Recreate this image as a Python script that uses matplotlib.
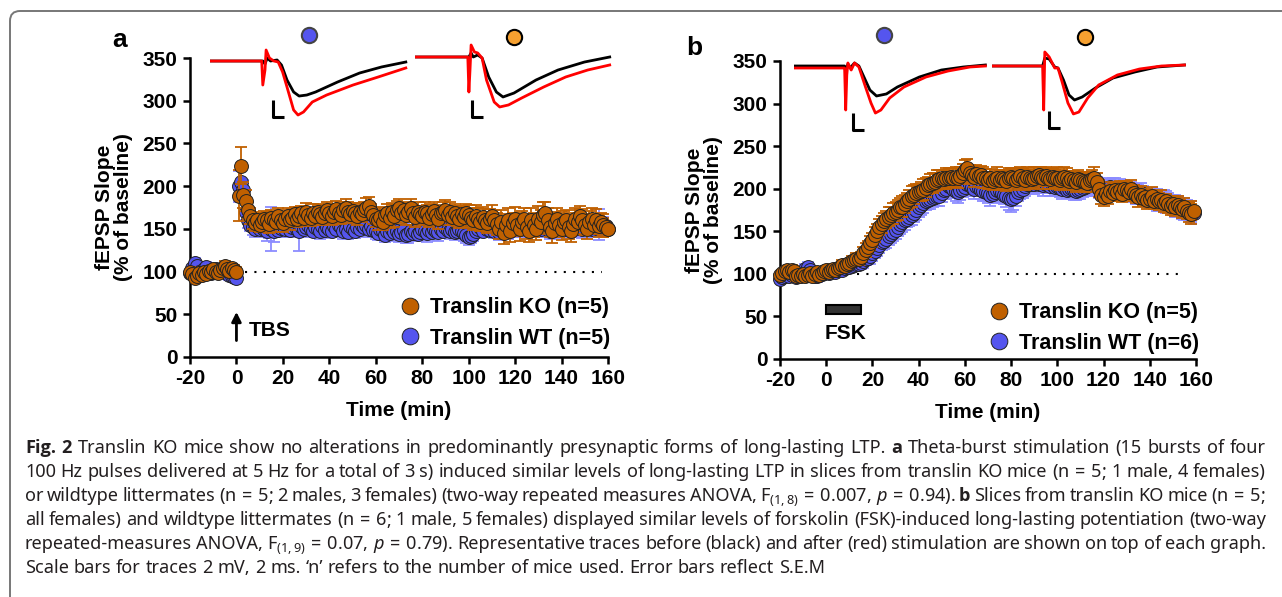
import numpy as np
import matplotlib
matplotlib.use("Agg")
import matplotlib.pyplot as plt
from matplotlib import font_manager
from matplotlib.lines import Line2D
from matplotlib.patches import Rectangle, FancyBboxPatch

W, H = 1282, 597

plt.rcParams["font.family"] = ["Liberation Sans", "DejaVu Sans"]
plt.rcParams["font.weight"] = "bold"
plt.rcParams["axes.labelweight"] = "bold"
plt.rcParams["axes.unicode_minus"] = False
plt.rcParams["mathtext.fontset"] = "custom"
plt.rcParams["mathtext.rm"] = "Noto Sans"
plt.rcParams["mathtext.it"] = "Noto Sans:italic"
plt.rcParams["mathtext.bf"] = "Noto Sans:bold"
plt.rcParams["mathtext.default"] = "rm"

KO_COL, KO_ERR = "#C06000", "#C06000"
WT_COL, WT_ERR = "#5555EE", "#8C8CFF"

# ---------------- data: panel a (TBS) ----------------
T_A = np.arange(-20, 161)

KO_A_BASE = [100, 97, 92, 95, 98, 96, 100, 97, 101, 99,
             103, 100, 98, 102, 104, 106, 103, 101, 104, 102, 100]
KO_A_POST = [189, 224, 190, 183, 172, 165, 160, 157, 160, 155,
             158, 162, 160, 156, 163, 160, 158, 165, 160, 157,
             162, 165, 160, 163, 167, 162, 165, 168, 163, 170,
             166, 163, 168, 165, 170, 167, 164, 169, 172, 168,
             165, 170, 173, 168, 166, 172, 175, 170, 167, 171,
             168, 165, 170, 167, 172, 175, 177, 170, 166, 162,
             160, 164, 158, 166, 168, 163, 170, 165, 172, 175,
             168, 172, 166, 170, 174, 168, 164, 170, 167, 165,
             170, 168, 163, 167, 171, 166, 162, 168, 170, 172,
             166, 170, 164, 168, 165, 162, 167, 164, 168, 166,
             163, 160, 165, 162, 158, 164, 160, 157, 162, 165,
             160, 156, 150, 158, 145, 155, 160, 148, 157, 162,
             155, 150, 158, 162, 152, 148, 160, 155, 150, 162,
             158, 166, 168, 160, 152, 148, 157, 162, 155, 150,
             158, 160, 152, 148, 156, 162, 158, 165, 160, 155,
             150, 158, 162, 155, 160, 153, 158, 155, 152, 150]
KO_A_SEM_BASE = [5, 6, 4, 5, 6, 5, 4, 6, 5, 4, 5, 6, 5, 4, 5, 6, 5, 4, 5, 6, 5]
KO_A_SEM_POST = [30, 22, 15, 12, 10, 9, 10, 9, 8, 9,
                 10, 9, 10, 11, 9, 10, 12, 10, 9, 11,
                 10, 9, 11, 10, 9, 10, 11, 9, 10, 10,
                 9, 10, 11, 10, 9, 10, 10, 9, 10, 11,
                 10, 9, 10, 11, 10, 9, 10, 11, 10, 9,
                 10, 11, 10, 9, 10, 11, 10, 9, 10, 10,
                 11, 10, 9, 10, 11, 12, 10, 13, 11, 10,
                 11, 10, 12, 10, 11, 10, 12, 11, 10, 11,
                 12, 10, 11, 12, 10, 11, 12, 10, 11, 12,
                 11, 12, 10, 11, 12, 11, 10, 12, 11, 12,
                 12, 11, 13, 12, 11, 12, 13, 12, 11, 13,
                 12, 13, 12, 14, 13, 12, 14, 13, 12, 14,
                 13, 14, 13, 12, 14, 13, 15, 14, 13, 15,
                 14, 15, 13, 14, 12, 14, 13, 12, 14, 13,
                 13, 12, 14, 13, 12, 13, 14, 12, 13, 12,
                 12, 13, 12, 11, 13, 12, 11, 12, 11, 10]

WT_A_BASE = [98, 104, 110, 106, 100, 97, 103, 105, 101, 98,
             100, 103, 99, 101, 104, 100, 98, 96, 95, 94, 93]
WT_A_POST = [200, 205, 195, 170, 160, 155, 152, 150, 153, 150,
             152, 150, 148, 153, 150, 147, 152, 149, 151, 154,
             150, 153, 149, 152, 155, 150, 148, 153, 150, 152,
             155, 150, 148, 152, 150, 147, 153, 149, 152, 150,
             148, 153, 150, 155, 152, 148, 150, 146, 153, 150,
             148, 152, 150, 155, 152, 154, 150, 153, 149, 147,
             145, 150, 147, 143, 148, 145, 150, 146, 148, 144,
             146, 149, 143, 144, 147, 145, 148, 144, 146, 150,
             147, 145, 149, 146, 150, 148, 146, 150, 147, 152,
             149, 147, 150, 146, 148, 150, 147, 145, 143, 140,
             142, 144, 148, 150, 152, 148, 153, 150, 149, 152,
             148, 150, 146, 152, 148, 150, 147, 152, 150, 155,
             152, 150, 154, 151, 155, 150, 153, 152, 150, 154,
             150, 152, 155, 150, 148, 153, 150, 154, 150, 152,
             153, 150, 152, 155, 150, 153, 155, 152, 150, 153,
             155, 152, 150, 154, 152, 155, 150, 152, 153, 150]
WT_A_SEM_BASE = [4, 5, 6, 4, 5, 4, 5, 6, 4, 5, 4, 5, 6, 4, 5, 4, 5, 6, 4, 5, 4]
WT_A_SEM_POST = [18, 15, 12, 10, 9, 8, 9, 10, 8, 9,
                 9, 10, 12, 14, 26, 12, 10, 9, 11, 10,
                 9, 10, 8, 11, 10, 9, 24, 10, 9, 8,
                 9, 10, 8, 9, 10, 9, 8, 10, 12, 9,
                 8, 9, 10, 8, 9, 10, 9, 8, 9, 10,
                 9, 8, 9, 10, 9, 8, 9, 10, 8, 9,
                 8, 9, 10, 8, 9, 8, 9, 10, 8, 9,
                 9, 8, 9, 10, 8, 9, 10, 8, 9, 8,
                 9, 10, 8, 9, 8, 9, 10, 9, 8, 9,
                 8, 9, 10, 9, 8, 9, 8, 9, 10, 9,
                 9, 8, 9, 10, 9, 8, 9, 10, 9, 8,
                 9, 10, 9, 8, 9, 10, 9, 8, 9, 10,
                 10, 9, 8, 9, 10, 9, 10, 11, 9, 10,
                 9, 10, 11, 9, 10, 9, 11, 10, 9, 10,
                 10, 9, 11, 10, 9, 12, 10, 9, 11, 10,
                 10, 11, 9, 10, 12, 18, 10, 9, 11, 10]

# ---------------- data: panel b (FSK) ----------------
T_B = np.arange(-20, 160)

KO_B_BASE = [99, 101, 103, 104, 102, 105, 103, 97, 99, 98,
             100, 97, 99, 101, 98, 100, 102, 99, 101, 103]
KO_B_POST = [104, 102, 105, 106, 104, 107, 108, 110, 109, 112,
             113, 115, 116, 118, 117, 120, 124, 128, 132, 136,
             140, 146, 150, 155, 158, 162, 164, 167, 169, 171,
             173, 175, 178, 179, 182, 185, 188, 191, 193, 195,
             196, 197, 199, 201, 204, 206, 207, 208, 210, 211,
             212, 211, 212, 213, 214, 213, 214, 212, 215, 218,
             222, 224, 218, 216, 214, 217, 215, 216, 213, 212,
             210, 212, 209, 211, 213, 210, 212, 211, 209, 213,
             214, 212, 210, 213, 215, 212, 210, 214, 213, 211,
             213, 215, 216, 214, 212, 215, 213, 211, 214, 212,
             213, 210, 212, 214, 212, 209, 211, 210, 208, 211,
             210, 209, 208, 207, 210, 211, 213, 208, 200, 193,
             190, 195, 192, 197, 195, 199, 196, 198, 194, 200,
             198, 196, 200, 195, 193, 190, 193, 189, 190, 187,
             188, 191, 186, 188, 185, 187, 183, 185, 182, 180,
             182, 179, 181, 178, 176, 178, 174, 172, 170, 174]
KO_B_SEM_BASE = [4, 5, 4, 5, 6, 5, 4, 5, 4, 5, 4, 5, 6, 5, 4, 5, 4, 5, 6, 5]
KO_B_SEM_POST = [5, 4, 5, 6, 5, 4, 5, 6, 5, 6,
                 5, 6, 5, 6, 7, 6, 7, 8, 7, 8,
                 8, 9, 8, 9, 10, 9, 10, 11, 10, 12,
                 11, 12, 11, 12, 11, 10, 11, 12, 11, 10,
                 10, 11, 12, 11, 10, 11, 12, 11, 12, 11,
                 10, 11, 12, 11, 10, 11, 12, 11, 10, 11,
                 12, 11, 10, 11, 12, 11, 10, 11, 12, 11,
                 10, 11, 10, 11, 12, 11, 10, 11, 12, 11,
                 10, 11, 12, 11, 10, 11, 12, 11, 10, 11,
                 12, 11, 10, 11, 12, 11, 10, 11, 10, 11,
                 12, 11, 10, 11, 12, 11, 10, 11, 12, 11,
                 10, 11, 12, 11, 10, 11, 12, 11, 10, 11,
                 10, 9, 10, 11, 10, 9, 10, 11, 10, 9,
                 10, 11, 10, 9, 10, 11, 10, 9, 10, 11,
                 10, 11, 10, 9, 10, 11, 10, 9, 10, 11,
                 10, 11, 10, 9, 10, 11, 10, 11, 12, 11]

WT_B_BASE = [94, 96, 98, 100, 97, 99, 101, 96, 98, 100,
             102, 106, 108, 104, 100, 98, 97, 99, 100, 101]
WT_B_POST = [102, 101, 103, 104, 102, 105, 106, 104, 107, 108,
             108, 109, 110, 111, 112, 113, 115, 117, 119, 121,
             124, 127, 130, 134, 137, 139, 141, 144, 147, 149,
             152, 155, 158, 161, 163, 165, 167, 169, 172, 175,
             178, 181, 183, 185, 187, 188, 189, 190, 191, 192,
             195, 198, 200, 203, 202, 200, 197, 196, 198, 200,
             202, 205, 204, 202, 200, 203, 201, 199, 197, 196,
             195, 193, 194, 196, 198, 197, 195, 193, 191, 189,
             188, 189, 192, 196, 198, 200, 203, 205, 206, 205,
             206, 207, 205, 206, 204, 206, 205, 203, 204, 202,
             203, 201, 200, 202, 199, 200, 201, 198, 197, 199,
             200, 201, 202, 203, 204, 205, 204, 203, 201, 200,
             199, 200, 201, 202, 200, 201, 199, 200, 198, 199,
             197, 196, 198, 195, 194, 193, 195, 192, 191, 190,
             189, 190, 188, 187, 186, 185, 186, 184, 183, 182,
             181, 180, 179, 178, 177, 176, 175, 174, 173, 172]
WT_B_SEM_BASE = [5, 4, 5, 6, 4, 5, 4, 5, 6, 5, 4, 5, 6, 5, 4, 5, 6, 4, 5, 4]
WT_B_SEM_POST = [4, 5, 4, 5, 6, 5, 4, 5, 6, 5,
                 6, 5, 6, 7, 6, 7, 8, 7, 8, 9,
                 9, 8, 9, 10, 9, 10, 11, 10, 11, 10,
                 11, 10, 11, 12, 11, 10, 11, 12, 11, 12,
                 11, 12, 11, 10, 11, 12, 11, 10, 11, 12,
                 11, 10, 12, 11, 10, 11, 12, 13, 11, 10,
                 11, 12, 10, 11, 12, 11, 10, 11, 12, 11,
                 12, 13, 11, 12, 10, 11, 12, 11, 13, 14,
                 15, 14, 12, 11, 10, 11, 12, 11, 10, 11,
                 12, 11, 10, 11, 12, 11, 10, 11, 12, 11,
                 10, 11, 12, 11, 10, 11, 12, 11, 10, 11,
                 12, 11, 10, 11, 12, 11, 10, 11, 12, 11,
                 10, 11, 10, 11, 12, 11, 10, 11, 10, 11,
                 12, 11, 10, 11, 12, 11, 12, 11, 10, 11,
                 12, 11, 12, 13, 12, 11, 12, 13, 12, 11,
                 12, 13, 12, 11, 12, 13, 12, 11, 12, 13]

BASELINE = 100
DOTS_A = (3.7, 157.5)
DOTS_B = (13.3, 153.5)
FSK_ON = (0, 15)

# ---------------- representative traces (ms, mV) ----------------
TRA_A1_BLACK_T = [0, 9.6, 10.0, 10.4, 11.0, 12.2, 13.0, 14.0, 15.2, 16.2, 17.6, 19.2, 23.2, 27.2, 31.2, 35.6]
TRA_A1_BLACK_V = [0, 0, -0.36, 0.36, 0, 0.12, -0.48, -2.26, -3.69, -4.17, -4.05, -3.69, -2.5, -1.43, -0.71, -0.12]
TRA_A1_RED_T = [0, 9.4, 9.6, 10.0, 10.2, 10.8, 11.6, 12.4, 13.2, 14.0, 15.2, 16.0, 17.0, 18.6, 21.2, 26.0, 30.6, 35.6]
TRA_A1_RED_V = [0, 0, -2.86, -1.07, 1.31, 0.36, 0, -0.12, -1.31, -3.10, -5.83, -6.43, -6.07, -4.88, -4.05, -2.86, -1.90, -0.83]

TRA_A2_BLACK_T = [0, 9.8, 10.2, 10.6, 11.4, 12.2, 13.4, 14.8, 16.0, 18.0, 22.0, 26.0, 30.8, 35.4]
TRA_A2_BLACK_V = [0, 0, 0.48, 0, 0.24, -0.12, -2.38, -4.17, -4.76, -4.29, -2.74, -1.55, -0.6, 0]
TRA_A2_RED_T = [0, 9.6, 9.8, 10.0, 10.2, 10.8, 11.4, 12.2, 13.0, 14.4, 15.4, 17.0, 19.4, 23.4, 27.4, 31.4, 35.4]
TRA_A2_RED_V = [0, 0, -4.17, -1.55, 1.43, 0.6, 0.48, -0.12, -2.74, -5.36, -5.95, -5.71, -4.88, -3.57, -2.38, -1.55, -0.95]

TRA_B1_BLACK_T = [0, 9.2, 9.4, 9.8, 10.2, 11.0, 11.8, 12.8, 13.8, 15.0, 16.8, 18.8, 22.8, 26.8, 30.8, 34.8]
TRA_B1_BLACK_V = [0.12, 0.12, -0.6, 0.36, -0.12, 0.48, 0.12, -1.31, -2.74, -3.45, -3.21, -2.38, -1.19, -0.36, 0, 0.24]
TRA_B1_RED_T = [0, 9.2, 9.4, 9.6, 9.8, 10.4, 11.0, 11.8, 13.0, 14.0, 14.8, 15.8, 17.4, 20.0, 24.0, 28.0, 32.0, 34.8]
TRA_B1_RED_V = [-0.12, -0.12, -5.12, -0.95, 0.48, -0.36, 0.48, 0, -2.38, -4.29, -5.48, -5.12, -3.69, -2.38, -1.19, -0.48, 0, 0.12]

TRA_B2_BLACK_T = [0, 9.2, 9.6, 10.4, 11.4, 12.0, 13.0, 14.0, 15.0, 16.4, 18.8, 22.0, 26.0, 30.0, 35.0]
TRA_B2_BLACK_V = [0, 0, 0.95, 0.83, -0.12, -0.24, -1.67, -3.45, -4.05, -3.69, -2.62, -1.43, -0.71, -0.12, 0.12]
TRA_B2_RED_T = [0, 9.2, 9.4, 9.6, 10.4, 11.4, 12.0, 12.8, 13.8, 14.8, 15.8, 17.4, 19.4, 22.8, 26.8, 30.8, 35.0]
TRA_B2_RED_V = [0, 0, -5.24, 1.67, 1.07, -0.24, -0.24, -2.02, -4.40, -5.71, -5.48, -3.81, -2.26, -1.07, -0.36, 0, 0.12]

SCALE_MS, SCALE_MV = 2, 2

CAPTION = [
    r"**Fig.** **2** Translin KO mice show no alterations in predominantly presynaptic forms of long-lasting LTP. **a** Theta-burst stimulation (15 bursts of four",
    r"100 Hz pulses delivered at 5 Hz for a total of 3 s) induced similar levels of long-lasting LTP in slices from translin KO mice (n$\,=\,$5; 1 male, 4 females)",
    r"or wildtype littermates (n$\,=\,$5; 2 males, 3 females) (two-way repeated measures ANOVA, F$_{(1,8)}\,=\,$0.007, $\mathit{p}\,=\,$0.94). **b** Slices from translin KO mice (n$\,=\,$5;",
    r"all females) and wildtype littermates (n$\,=\,$6; 1 male, 5 females) displayed similar levels of forskolin (FSK)-induced long-lasting potentiation (two-way",
    r"repeated-measures ANOVA, F$_{(1,9)}\,=\,$0.07, $\mathit{p}\,=\,$0.79). Representative traces before (black) and after (red) stimulation are shown on top of each graph.",
    r"Scale bars for traces 2 mV, 2 ms. ‘n’ refers to the number of mice used. Error bars reflect S.E.M",
]

fig = plt.figure(figsize=(W / 100, H / 100), dpi=100)


def px_axes(left, top, width, height):
    return fig.add_axes([left / W, 1 - (top + height) / H, width / W, height / H])


def draw_panel(ax, t, ko, ko_sem, wt, wt_sem, n_wt, dots, leg_top):
    ax.errorbar(t, wt, yerr=wt_sem, fmt="none", ecolor=WT_ERR, elinewidth=1.3,
                capsize=4, capthick=1.3, zorder=2)
    ax.plot(t, wt, "o", ms=10, mfc=WT_COL, mec="#222222", mew=0.7, zorder=3, clip_on=False)
    ax.errorbar(t, ko, yerr=ko_sem, fmt="none", ecolor=KO_ERR, elinewidth=1.3,
                capsize=4, capthick=1.3, zorder=4)
    ax.plot(t, ko, "o", ms=10, mfc=KO_COL, mec="#222222", mew=0.7, zorder=5, clip_on=False)
    ax.hlines(BASELINE, dots[0], dots[1], colors="k", linestyles=(0, (1, 3.5)), lw=1.5, zorder=1)

    ax.set_xlim(-20, 160)
    ax.set_ylim(0, 350)
    ax.set_xticks(np.arange(-20, 161, 20))
    ax.set_yticks(np.arange(0, 351, 50))
    for s in ["top", "right"]:
        ax.spines[s].set_visible(False)
    for s in ["left", "bottom"]:
        ax.spines[s].set_linewidth(1.8)
    ax.tick_params(width=1.8, length=5, labelsize=15, pad=4)
    for lab in ax.get_xticklabels() + ax.get_yticklabels():
        lab.set_fontweight("bold")
    ax.set_xlabel("Time (min)", fontsize=15, fontweight="bold", labelpad=9)
    ax.set_ylabel("fEPSP Slope\n(% of baseline)", fontsize=15, fontweight="bold",
                  linespacing=1.0, labelpad=7)

    handles = [Line2D([], [], ls="none", marker="o", ms=12, mfc=KO_COL, mec="#222222", mew=0.7),
               Line2D([], [], ls="none", marker="o", ms=12, mfc=WT_COL, mec="#222222", mew=0.7)]
    ax.legend(handles, ["Translin KO (n=5)", f"Translin WT (n={n_wt})"],
              loc="upper left", bbox_to_anchor=(0.50, leg_top), frameon=False,
              fontsize=15.5, handlelength=1.0, handletextpad=0.45, labelspacing=0.45,
              borderpad=0, borderaxespad=0)


MS_PX, MV_PX = 5.5, 8.4


def draw_traces(x0, y0, bt, bv, rt, rv, bar, dot, dot_col, dot_edge):
    tax = px_axes(x0, y0 - 2.5 * MV_PX, 36 * MS_PX, 10.5 * MV_PX)
    tax.set_xlim(0, 36)
    tax.set_ylim(-8, 2.5)
    tax.axis("off")
    tax.plot(bt, bv, color="k", lw=2.0, solid_joinstyle="round")
    tax.plot(rt, rv, color="#FF0000", lw=2.0, solid_joinstyle="round")
    tax.plot([bar[0], bar[0], bar[0] + SCALE_MS], [bar[1] + SCALE_MV, bar[1], bar[1]],
             color="k", lw=2.2, solid_capstyle="butt")
    tax.plot([dot[0]], [dot[1]], "o", ms=11, mfc=dot_col, mec=dot_edge, mew=1.5, clip_on=False)


# panel a
ax_a = px_axes(190, 58, 418, 299)
draw_panel(ax_a, T_A, KO_A_BASE + KO_A_POST, KO_A_SEM_BASE + KO_A_SEM_POST,
           WT_A_BASE + WT_A_POST, WT_A_SEM_BASE + WT_A_SEM_POST, 5, DOTS_A, 0.200)
ax_a.annotate("", xy=(0, 56), xytext=(0, 16),
              arrowprops=dict(arrowstyle="-|>", color="k", lw=2, mutation_scale=14))
ax_a.text(5.5, 31, "TBS", fontsize=15, va="center", ha="left")

# panel b
ax_b = px_axes(780, 61, 416, 298)
draw_panel(ax_b, T_B, KO_B_BASE + KO_B_POST, KO_B_SEM_BASE + KO_B_SEM_POST,
           WT_B_BASE + WT_B_POST, WT_B_SEM_BASE + WT_B_SEM_POST, 6, DOTS_B, 0.191)
ax_b.add_patch(Rectangle((FSK_ON[0], 53), FSK_ON[1] - FSK_ON[0], 11,
                         facecolor="#333333", edgecolor="k", lw=1.5, zorder=3))
ax_b.text(-0.8, 30, "FSK", fontsize=15, va="center", ha="left")

# traces
draw_traces(210, 61, TRA_A1_BLACK_T, TRA_A1_BLACK_V, TRA_A1_RED_T, TRA_A1_RED_V,
            (11.4, -6.7), (18, 3.1), WT_COL, "#444444")
draw_traces(415, 57, TRA_A2_BLACK_T, TRA_A2_BLACK_V, TRA_A2_RED_T, TRA_A2_RED_V,
            (10.4, -7.1), (18, 2.4), "#F5A030", "k")
draw_traces(794, 67, TRA_B1_BLACK_T, TRA_B1_BLACK_V, TRA_B1_RED_T, TRA_B1_RED_V,
            (10.7, -7.5), (16.4, 3.8), WT_COL, "#444444")
draw_traces(992, 66, TRA_B2_BLACK_T, TRA_B2_BLACK_V, TRA_B2_RED_T, TRA_B2_RED_V,
            (10.4, -7.4), (16.9, 3.45), "#F5A030", "k")

fig.text(120 / W, 1 - 47 / H, "a", fontsize=19, fontweight="bold", ha="center", va="baseline")
fig.text(694 / W, 1 - 55 / H, "b", fontsize=19, fontweight="bold", ha="center", va="baseline")

# frame around figure + caption
fig.patches.append(FancyBboxPatch((0.10, -0.4), 13.5, 6.26, boxstyle="round,pad=0,rounding_size=0.1",
                                  transform=fig.dpi_scale_trans, facecolor="none",
                                  edgecolor="#777777", lw=1.4))


# caption, justified
def has_bold(name):
    return any(f.name == name and f.weight in ("bold", 700, 600, "semibold", "demibold")
               for f in font_manager.fontManager.ttflist)


CAP_FONT = ["Noto Sans", "DejaVu Sans"]
BOLD_FONT = next((n for n in ["Noto Sans", "Open Sans", "Lato", "Liberation Sans"] if has_bold(n)),
                 "DejaVu Sans")
CAP_COLOR = "#231F20"
renderer = fig.canvas.get_renderer()


def cap_text(x, y, tok, size):
    bold = tok.startswith("**") and tok.endswith("**")
    s = tok.strip("*") if bold else tok
    return fig.text(x / W, 1 - y / H, s, fontsize=size,
                    family=[BOLD_FONT, "DejaVu Sans"] if bold else CAP_FONT,
                    fontweight="bold" if bold else "normal", color=CAP_COLOR,
                    ha="left", va="baseline")


def widths(line, size):
    arts = [cap_text(0, 0, tok, size) for tok in line.split(" ")]
    ws = [a.get_window_extent(renderer).width for a in arts]
    for a in arts:
        a.remove()
    return ws


def space_w(size):
    a = cap_text(0, 0, "n n", size)
    b = cap_text(0, 0, "nn", size)
    w = a.get_window_extent(renderer).width - b.get_window_extent(renderer).width
    a.remove()
    b.remove()
    return w


X0, X1 = 25, 1266
base = 12.0
nat = []
for line in CAPTION[:5]:
    ws = widths(line, base)
    nat.append(sum(ws) + space_w(base) * (len(ws) - 1))
size = base * np.mean([(X1 - X0) / n for n in nat])

for i, line in enumerate(CAPTION):
    y = 453 + 24.0 * i
    toks = line.split(" ")
    ws = widths(line, size)
    if i < 5:
        gap = (X1 - X0 - sum(ws)) / (len(ws) - 1)
    else:
        gap = space_w(size)
    x = X0
    for tok, w in zip(toks, ws):
        cap_text(x, y, tok, size)
        x += w + gap

fig.savefig("out.png", dpi=100)
